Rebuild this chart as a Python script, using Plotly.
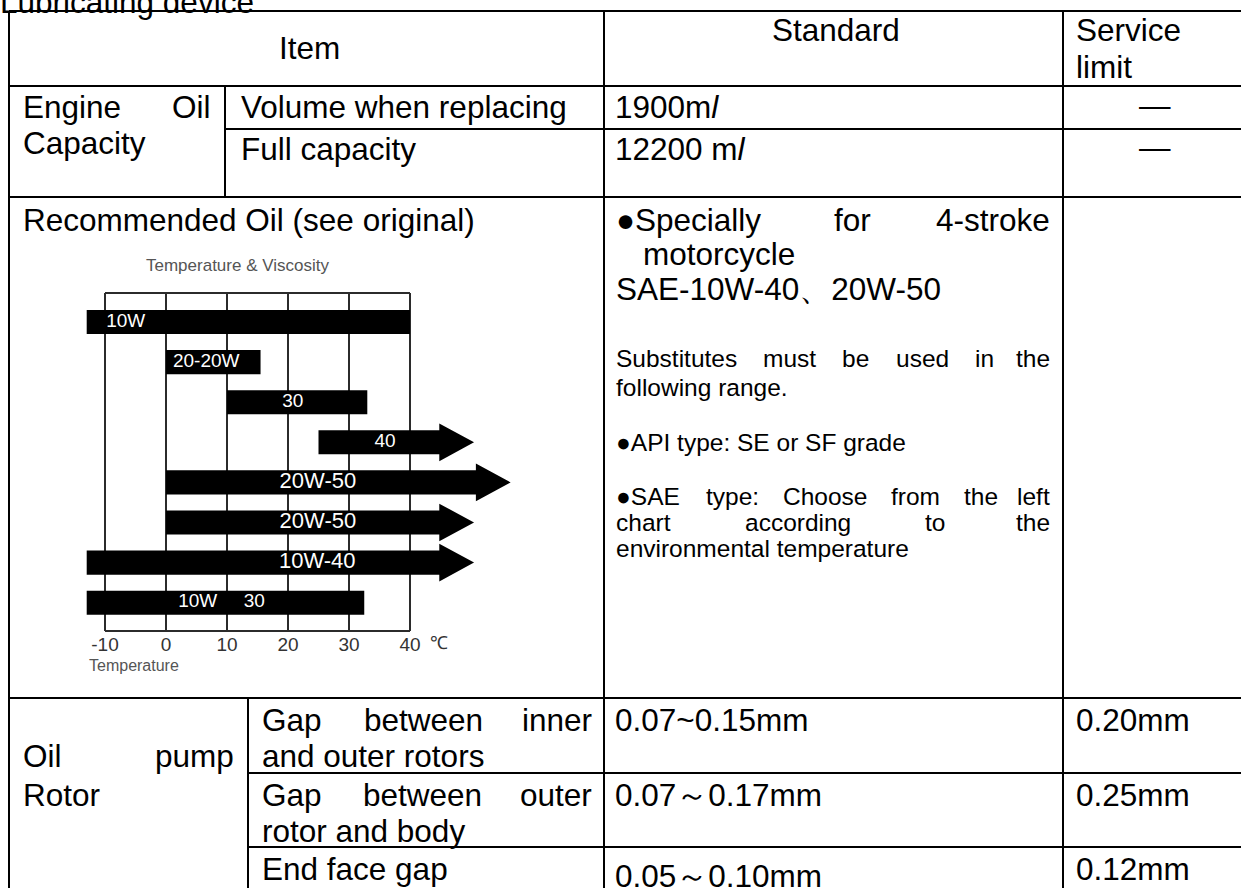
import plotly.graph_objects as go

W, H = 1241, 888
FONT = "Liberation Sans, Arial, Helvetica, sans-serif"

# ---------------- data ----------------
title_text = "Lubricating device"
header_item = "Item"
header_std = "Standard"
header_limit = ["Service", "limit"]

capacity_label = ["Engine Oil", "Capacity"]
capacity_items = ["Volume when replacing", "Full capacity"]
capacity_std = ["1900m<i>l</i>", "12200 m<i>l</i>"]
capacity_limit = ["—", "—"]

oil_label = "Recommended Oil (see original)"
oil_std_main = ["●Specially for 4-stroke", "motorcycle", "SAE-10W-40、20W-50"]
oil_std_notes = ["Substitutes must be used in the", "following range.",
                 "●API type: SE or SF grade", "●SAE type: Choose from the left",
                 "chart according to the", "environmental temperature"]

pump_label = ["Oil pump", "Rotor"]
pump_items = [["Gap between inner", "and outer rotors"],
              ["Gap between outer", "rotor and body"],
              ["End face gap"]]
pump_std = ["0.07~0.15mm", "0.07～0.17mm", "0.05～0.10mm"]
pump_limit = ["0.20mm", "0.25mm", "0.12mm"]

chart_title = "Temperature & Viscosity"
chart_xlabel = "Temperature"
temp_ticks = [-10, 0, 10, 20, 30, 40]
temp_unit = "℃"
grades = ["10W", "20-20W", "30", "40", "20W-50", "20W-50", "10W-40",
          "10W\u00a0\u00a0\u00a0\u00a0\u00a030"]
grade_start = [-13, 0, 10, 25, 0, 0, -13, -13]
grade_end = [40, 15.5, 33, 50.5, 56.5, 50.5, 50.5, 32.5]
grade_arrow = [False, False, False, True, True, True, True, False]
grade_label_x = [-6.6, 6.6, 20.8, 35.9, 24.9, 24.9, 24.8, 9.1]
grade_label_size = [19, 19, 19, 19, 22, 22, 22, 19]

# ---------------- layout constants (pixels) ----------------
X_LEFT, X_C1, X_PUMP, X_STD, X_LIM = 9, 225, 248, 604, 1063
Y_TOP, Y_HEAD, Y_VOL, Y_CAP, Y_REC, Y_P1, Y_P2 = 11, 86, 129, 197, 698, 773, 847
FS = 31.5
FS2 = 24.5

# chart geometry
PX_M10, PX_40 = 105, 410
ppd = (PX_40 - PX_M10) / 50.0
XR = [-17, 60]
dom_x = [(PX_M10 + (XR[0] + 10) * ppd) / W, (PX_M10 + (XR[1] + 10) * ppd) / W]
ROW0, ROWSTEP = 322, 40.1
CH_TOP, CH_BOT = 293, 631
YR = [(CH_BOT - ROW0) / ROWSTEP, (CH_TOP - ROW0) / ROWSTEP]
dom_y = [1 - CH_BOT / H, 1 - CH_TOP / H]
BAR_W = 0.6
HEAD_HALF = 0.47
HEAD_LEN = 5.7

# Arial / Liberation Sans advance widths (per 1000 em)
AW = dict(zip("abcdefghijklmnopqrstuvwxyz",
              [556, 556, 500, 556, 556, 278, 556, 556, 222, 222, 500, 222, 833,
               556, 556, 556, 556, 333, 500, 278, 556, 500, 722, 500, 500, 500]))
AW.update(dict(zip("ABCDEFGHIJKLMNOPQRSTUVWXYZ",
                   [667, 667, 722, 722, 667, 611, 778, 722, 278, 500, 667, 556, 833,
                    722, 778, 667, 778, 722, 667, 611, 722, 667, 944, 667, 667, 611])))
AW.update({str(d): 556 for d in range(10)})
AW.update({"-": 333, ":": 278, ".": 278, " ": 278, "(": 333, ")": 333, "●": 700})


def tw(s, size):
    return sum(AW.get(ch, 556) for ch in s) / 1000.0 * size


annotations = []


def put(x, y, s, size=FS, anchor="left", color="black", xref="x", yref="y"):
    annotations.append(dict(x=x, y=y, xref=xref, yref=yref, text=s, showarrow=False,
                            xanchor=anchor, yanchor="middle",
                            font=dict(family=FONT, size=size, color=color)))


def justify(line, x0, x1, y, size=FS):
    words = line.split(" ")
    widths = [tw(w, size) for w in words]
    gap = (x1 - x0 - sum(widths)) / (len(words) - 1)
    x = x0
    for i, (w, wd) in enumerate(zip(words, widths)):
        if i == len(words) - 1:
            put(x1, y, w, size, anchor="right")
        else:
            put(x, y, w, size)
        x += wd + gap


# ---------------- table text ----------------
put(-2 / W, 1 - 2 / H, title_text, xref="paper", yref="paper")
put((X_LEFT + X_STD) / 2 + 3, 48, header_item, anchor="center")
put((X_STD + X_LIM) / 2 + 2, 30, header_std, anchor="center")
put(X_LIM + 11, 30, header_limit[0])
put(X_LIM + 11, 67, header_limit[1])

justify(capacity_label[0], X_LEFT + 12, X_C1 - 12, 107)
put(X_LEFT + 12, 143, capacity_label[1])
for i, yy in enumerate([107, 149]):
    put(X_C1 + 14, yy, capacity_items[i])
    put(X_STD + 9, yy, capacity_std[i])
    put((X_LIM + 1255) / 2 - 4, yy - 2, capacity_limit[i], anchor="center")

put(X_LEFT + 12, 220, oil_label)
justify(oil_std_main[0], X_STD + 10, X_LIM - 11, 220)
put(X_STD + 37, 254, oil_std_main[1])
put(X_STD + 10, 289, oil_std_main[2])
note_y = [358, 387, 442, 496, 522, 548]
for line, yy, just in zip(oil_std_notes, note_y, [True, False, False, True, True, False]):
    if just:
        justify(line, X_STD + 10, X_LIM - 11, yy, FS2)
    else:
        put(X_STD + 10, yy, line, FS2)

row_first_y = [720, 795, 869]
justify(pump_label[0], X_LEFT + 12, X_PUMP - 12, row_first_y[0] + 36)
put(X_LEFT + 12, row_first_y[1], pump_label[1])
for i, lines in enumerate(pump_items):
    for j, line in enumerate(lines):
        yy = row_first_y[i] + 36 * j
        if len(lines) > 1 and j == 0:
            justify(line, X_PUMP + 12, X_STD - 10, yy)
        else:
            put(X_PUMP + 12, yy, line)
    put(X_STD + 9, row_first_y[i] + (7 if i == 2 else 0), pump_std[i])
    put(X_LIM + 11, row_first_y[i], pump_limit[i])

# ---------------- table grid ----------------
shapes = []
grid = [
    (X_LEFT, Y_TOP, W + 5, Y_TOP), (X_LEFT, Y_HEAD, W + 5, Y_HEAD),
    (X_C1, Y_VOL, W + 5, Y_VOL), (X_LEFT, Y_CAP, W + 5, Y_CAP),
    (X_LEFT, Y_REC, W + 5, Y_REC), (X_PUMP, Y_P1, W + 5, Y_P1),
    (X_PUMP, Y_P2, W + 5, Y_P2),
    (X_LEFT, Y_TOP, X_LEFT, H + 5), (X_C1, Y_HEAD, X_C1, Y_CAP),
    (X_PUMP, Y_REC, X_PUMP, H + 5), (X_STD, Y_TOP, X_STD, H + 5),
    (X_LIM, Y_TOP, X_LIM, H + 5),
]
for x0, y0, x1, y1 in grid:
    shapes.append(dict(type="line", xref="x", yref="y", x0=x0, y0=y0, x1=x1, y1=y1,
                       line=dict(color="black", width=2)))

# chart frame top and bottom
for yd in (0, 1):
    shapes.append(dict(type="line", xref="x2", yref="y2 domain", x0=temp_ticks[0],
                       x1=temp_ticks[-1], y0=yd, y1=yd, line=dict(color="#2b2b2b", width=2)))

# ---------------- chart ----------------
fig = go.Figure()
rows = list(range(len(grades)))
body_end = [e - HEAD_LEN + 0.4 if a else e for e, a in zip(grade_end, grade_arrow)]
fig.add_trace(go.Bar(orientation="h", y=rows, base=grade_start,
                     x=[b - s for b, s in zip(body_end, grade_start)],
                     width=BAR_W, marker=dict(color="black", line=dict(width=0)),
                     xaxis="x2", yaxis="y2", hoverinfo="skip"))
hx, hy = [], []
for i, (e, a) in enumerate(zip(grade_end, grade_arrow)):
    if a:
        hx += [e - HEAD_LEN, e, e - HEAD_LEN, e - HEAD_LEN, None]
        hy += [i - HEAD_HALF, i, i + HEAD_HALF, i - HEAD_HALF, None]
fig.add_trace(go.Scatter(x=hx, y=hy, mode="lines", fill="toself", fillcolor="black",
                         line=dict(width=0, color="black"), xaxis="x2", yaxis="y2",
                         hoverinfo="skip"))
fig.add_trace(go.Scatter(x=grade_label_x, y=rows, mode="text", text=grades,
                         textposition="middle center",
                         textfont=dict(family=FONT, color="white", size=grade_label_size),
                         xaxis="x2", yaxis="y2", hoverinfo="skip"))

put(237, 265, chart_title, 17, anchor="center", color="#555555")
put(87, 665, chart_xlabel, 16, color="#555555")
put(temp_ticks[-1] + 4.8, 643, temp_unit, 18, anchor="center", color="#333333", xref="x2")

fig.update_layout(
    width=W, height=H, margin=dict(l=0, r=0, t=0, b=0),
    paper_bgcolor="white", plot_bgcolor="rgba(0,0,0,0)", showlegend=False,
    xaxis=dict(range=[0, W], domain=[0, 1], visible=False, fixedrange=True),
    yaxis=dict(range=[H, 0], domain=[0, 1], visible=False, fixedrange=True),
    xaxis2=dict(domain=dom_x, range=XR, anchor="y2", tickvals=temp_ticks,
                ticktext=[str(t) for t in temp_ticks], showgrid=True,
                gridcolor="#2b2b2b", gridwidth=2, zeroline=False, showline=False,
                ticks="", tickfont=dict(family=FONT, size=19, color="#333333")),
    yaxis2=dict(domain=dom_y, range=YR, anchor="x2", visible=False),
    shapes=shapes, annotations=annotations,
)

fig.write_html("out.html", config={"displayModeBar": False},
               post_script="document.body.style.margin='0px';document.body.style.overflow='hidden';")
